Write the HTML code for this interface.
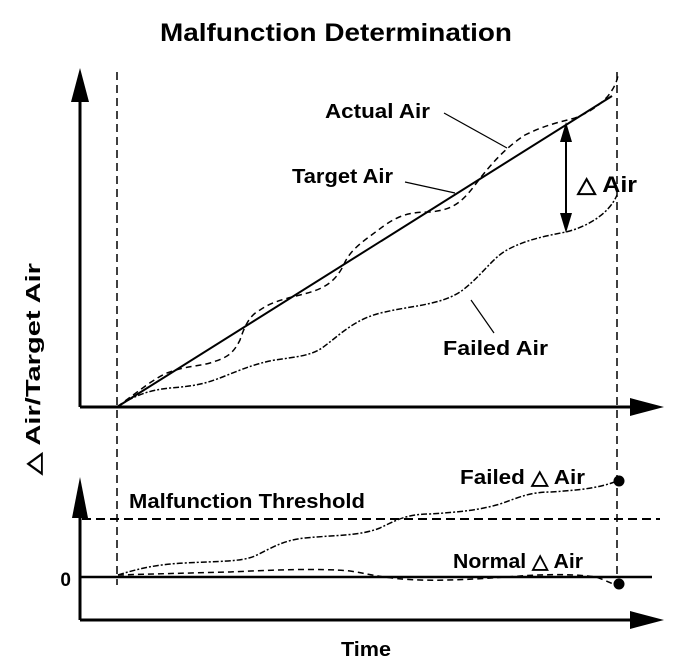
<!DOCTYPE html>
<html><head><style>body{margin:0;background:#fff}svg{display:block}text{font-family:"Liberation Sans",Arial,sans-serif;font-weight:bold;fill:#000}</style></head>
<body>
<svg width="688" height="666" viewBox="0 0 688 666" xmlns="http://www.w3.org/2000/svg">
<text x="160" y="41" font-size="25" textLength="352" lengthAdjust="spacingAndGlyphs">Malfunction Determination</text>
<text transform="translate(40,475) rotate(-90)" font-size="20" textLength="212" lengthAdjust="spacingAndGlyphs">△ Air/Target Air</text>
<!-- top axes -->
<line x1="80" y1="407" x2="80" y2="100" stroke="#000" stroke-width="3"/>
<polygon points="80,68 71,102 89,102" fill="#000"/>
<line x1="80" y1="407" x2="632" y2="407" stroke="#000" stroke-width="3"/>
<polygon points="664,407 630,398 630,416" fill="#000"/>
<!-- verticals -->
<line x1="117" y1="72" x2="117" y2="585" stroke="#000" stroke-width="1.5" stroke-dasharray="8,5"/>
<line x1="617" y1="72" x2="617" y2="585" stroke="#000" stroke-width="1.5" stroke-dasharray="8,5"/>
<!-- target -->
<line x1="117" y1="407" x2="612" y2="96" stroke="#000" stroke-width="2"/>
<!-- actual -->
<path d="M117,407 C140,390 155,378 167,373 C185,366 200,366 210,363 C225,358 232,356 240,340 C245,325 250,315 260,310 C270,303 280,300 300,295 C320,290 335,285 345,262 C352,248 365,240 385,225 C400,215 410,212 430,212 C450,210 460,205 475,185 C490,165 505,148 525,135 C545,125 560,122 575,118 C590,112 600,105 608,96 C614,88 617,82 618,75" fill="none" stroke="#000" stroke-width="1.5" stroke-dasharray="6,4"/>
<!-- failed -->
<path d="M117,407 C135,395 150,390 170,388 C195,386 205,384 225,376 C245,368 258,363 275,360 C295,357 310,356 322,348 C340,335 355,318 385,312 C410,306 440,305 460,292 C480,278 492,258 507,250 C525,240 545,236 566,232 C590,226 610,212 617,195" fill="none" stroke="#000" stroke-width="1.5" stroke-dasharray="6,2,2,2"/>
<!-- labels top -->
<text x="325" y="118" font-size="20" textLength="105" lengthAdjust="spacingAndGlyphs">Actual Air</text>
<line x1="444" y1="113" x2="507" y2="148" stroke="#000" stroke-width="1.2"/>
<text x="292" y="183" font-size="20" textLength="101" lengthAdjust="spacingAndGlyphs">Target Air</text>
<line x1="405" y1="182" x2="455" y2="193" stroke="#000" stroke-width="1.2"/>
<text x="443" y="355" font-size="20" textLength="105" lengthAdjust="spacingAndGlyphs">Failed Air</text>
<line x1="471" y1="300" x2="494" y2="333" stroke="#000" stroke-width="1.2"/>
<text x="577" y="192" font-size="22" textLength="60" lengthAdjust="spacingAndGlyphs">△ Air</text>
<line x1="566" y1="140" x2="566" y2="215" stroke="#000" stroke-width="2"/>
<polygon points="566,122 560,142 572,142" fill="#000"/>
<polygon points="566,233 560,213 572,213" fill="#000"/>
<!-- bottom axes -->
<line x1="80" y1="620" x2="80" y2="515" stroke="#000" stroke-width="3"/>
<polygon points="80,477 72,518 88,518" fill="#000"/>
<line x1="80" y1="620" x2="632" y2="620" stroke="#000" stroke-width="3"/>
<polygon points="664,620 630,611 630,629" fill="#000"/>
<line x1="80" y1="577" x2="652" y2="577" stroke="#000" stroke-width="2.5"/>
<line x1="82" y1="519" x2="660" y2="519" stroke="#000" stroke-width="2" stroke-dasharray="9,5"/>
<text x="71" y="586" font-size="19" text-anchor="end">0</text>
<text x="129" y="508" font-size="20" textLength="236" lengthAdjust="spacingAndGlyphs">Malfunction Threshold</text>
<text x="460" y="484" font-size="20" textLength="125" lengthAdjust="spacingAndGlyphs">Failed  △ Air</text>
<text x="453" y="568" font-size="20" textLength="130" lengthAdjust="spacingAndGlyphs">Normal  △ Air</text>
<text x="341" y="656" font-size="20" textLength="50" lengthAdjust="spacingAndGlyphs">Time</text>
<path d="M118,575 C140,568 160,564 185,563 C220,561 240,562 255,556 C275,546 285,540 305,538 C335,535 360,536 380,528 C400,518 410,514 430,514 C460,512 480,510 500,504 C520,497 530,492 551,492 C580,490 600,488 617,481" fill="none" stroke="#000" stroke-width="1.5" stroke-dasharray="6,2,2,2"/>
<path d="M118,575 C150,574 190,573 230,572 C270,570 320,568 350,571 C370,574 385,579 420,580 C455,581 490,578 520,576 C550,574 575,574 596,577 C605,580 612,584 617,585" fill="none" stroke="#000" stroke-width="1.5" stroke-dasharray="6,4"/>
<circle cx="619" cy="481" r="5.5" fill="#000"/>
<circle cx="619" cy="584" r="5.5" fill="#000"/>
</svg>
</body></html>
